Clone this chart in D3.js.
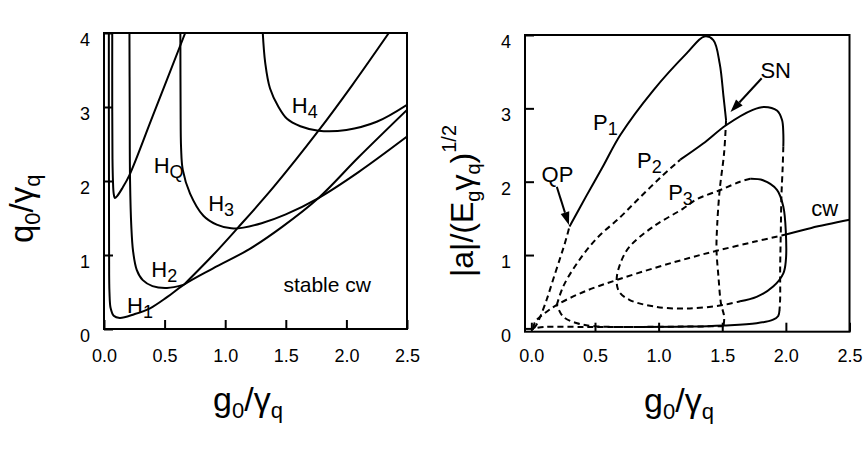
<!DOCTYPE html>
<html>
<head>
<meta charset="utf-8">
<script src="https://cdn.jsdelivr.net/npm/d3@7"></script>
<style>
  body { margin: 0; background: #fff; }
  svg text { font-family: "Liberation Sans", Arial, Helvetica, sans-serif; fill: #000; }
</style>
</head>
<body>
<svg id="fig" width="866" height="474"></svg>
<script>
// ---- left panel: Hopf boundaries in the (g0/γq, q0/γq) plane ----
const X_TICKS = [0, 0.5, 1.0, 1.5, 2.0, 2.5];
const Y_TICKS = [0, 1, 2, 3, 4];

const H1 = [[0.04,4.0],[0.04,3.0],[0.041,2.0],[0.042,1.0],[0.045,0.5],[0.055,0.28],[0.08,0.18],[0.13,0.15],[0.25,0.2],[0.38,0.28],[0.52,0.43],[0.66,0.6],
            [0.9,0.82],[1.2,1.08],[1.47,1.38],[1.77,1.77],[2.1,2.32],[2.5,2.96]];
const H2 = [[0.21,4.0],[0.212,3.0],[0.215,2.0],[0.225,1.4],[0.24,1.05],[0.27,0.8],[0.32,0.66],[0.4,0.58],[0.52,0.555],[0.66,0.6]];
const HD = [[0.66,0.6],[0.9,1.0],[1.1,1.36],[1.4,1.92],[1.77,2.68],[2.05,3.3],[2.35,4.0]];
const H3 = [[0.63,4.0],[0.632,3.0],[0.636,2.45],[0.65,2.15],[0.71,1.83],[0.82,1.53],[0.93,1.41],[1.05,1.36],[1.15,1.37],[1.3,1.43],[1.5,1.55],[1.77,1.77],[2.1,2.12],[2.5,2.6]];
const H4 = [[1.31,4.0],[1.33,3.6],[1.37,3.25],[1.44,3.0],[1.51,2.84],[1.62,2.74],[1.77,2.68],[2.0,2.69],[2.25,2.8],[2.5,3.03]];
const HQ = [[0.068,4.0],[0.068,3.0],[0.07,2.3],[0.074,2.0],[0.08,1.83],[0.09,1.77],[0.11,1.8],[0.15,1.9],[0.21,2.08],[0.4,2.87],[0.67,4.0]];

// ---- right panel: amplitude branches vs g0/γq ----
const CW_UNSTABLE = [[0.015,0.0],[0.03,0.09],[0.1,0.2],[0.2,0.32],[0.4,0.49],[0.67,0.66],[1.0,0.84],[1.24,0.96],[1.46,1.06],[1.75,1.18],[2.0,1.28]];
const CW_STABLE   = [[2.0,1.28],[2.2,1.37],[2.5,1.48]];

const P1_RISE  = [[0.02,0.0],[0.04,0.05],[0.07,0.16],[0.12,0.39],[0.17,0.66],[0.23,0.98],[0.265,1.17],[0.30,1.39]];
const P1_TOP   = [[0.30,1.39],[0.43,1.8],[0.56,2.2],[0.70,2.64],[0.96,3.25],[1.22,3.75],[1.36,3.98],[1.43,3.93],[1.48,3.61],[1.51,3.16],[1.53,2.84]];
const P1_FALL  = [[1.53,2.84],[1.515,2.4],[1.48,1.89],[1.46,1.4],[1.455,1.07],[1.47,0.71],[1.49,0.34],[1.515,0.16],[1.51,0.03]];
const P1_FLOOR = [[1.51,0.03],[1.2,0.025],[0.8,0.02],[0.4,0.02],[0.1,0.02],[0.02,0.0]];

const P2_RISE  = [[0.2,0.32],[0.25,0.57],[0.36,0.89],[0.51,1.22],[0.7,1.52],[0.85,1.78],[1.01,2.05],[1.17,2.3]];
const P2_TOP   = [[1.17,2.3],[1.35,2.52],[1.53,2.77],[1.74,2.98],[1.83,3.02],[1.93,2.97],[1.97,2.84],[1.98,2.65],[1.98,2.48]];
const P2_FALL  = [[1.98,2.48],[1.975,2.2],[1.965,1.8],[1.96,1.3],[1.955,0.8],[1.955,0.4],[1.95,0.25]];
const P2_BASE  = [[1.95,0.25],[1.94,0.17],[1.9,0.12],[1.77,0.07],[1.51,0.04],[1.24,0.025],[0.85,0.02]];
const P2_FLOOR = [[0.85,0.02],[0.5,0.03],[0.36,0.07],[0.25,0.16],[0.2,0.32]];

const P3_LOOP  = [[1.72,2.04],[1.64,2.0],[1.49,1.89],[1.3,1.76],[1.19,1.63],[0.96,1.39],[0.77,1.11],[0.7,0.89],[0.67,0.66],[0.69,0.5],[0.77,0.39],[0.96,0.3],[1.22,0.27],[1.51,0.32],[1.64,0.37]];
const P3_EDGE  = [[1.64,0.37],[1.77,0.43],[1.9,0.57],[1.98,0.75],[2.0,0.93],[2.0,1.3],[1.98,1.66],[1.93,1.89],[1.82,2.02],[1.72,2.04]];

const QP_ARROW = [[0.2,1.93],[0.295,1.41]];
const SN_ARROW = [[1.81,3.41],[1.565,2.95]];

const svg = d3.select("#fig");
const DASH = "6,4";

function richText(sel, parts, size, small, sub, sup){
  // parts: [text, kind] with kind "" | "sub" | "sup"; dy is relative so track the shift
  let shift = 0;
  parts.forEach(([t,k])=>{
    const want = k==="sub" ? sub : k==="sup" ? -sup : 0;
    sel.append("tspan").attr("dy", want-shift).attr("font-size", k ? small : size).text(t);
    shift = want;
  });
}

function panel(id, x, y, curves){
  const g = svg.append("g");
  const [x0,x1] = x.range(), [y0,y1] = y.range();
  g.append("clipPath").attr("id", id).append("rect")
    .attr("x", x0).attr("y", y1).attr("width", x1-x0).attr("height", y0-y1);
  const line = d3.line().x(d=>x(d[0])).y(d=>y(d[1])).curve(d3.curveCatmullRom.alpha(0.5));
  g.append("g").attr("clip-path", `url(#${id})`).selectAll("path").data(curves).join("path")
    .attr("d", d=>line(d.pts)).attr("fill","none").attr("stroke","#000")
    .attr("stroke-width", 2).attr("stroke-dasharray", d=>d.dashed ? DASH : null)
    .attr("stroke-linejoin","round");

  const ax = g.append("g").attr("transform", `translate(0,${y0})`)
    .call(d3.axisBottom(x).tickValues(X_TICKS).tickFormat(d3.format(".1f"))
      .tickSizeInner(-9).tickSizeOuter(0).tickPadding(362 - y0 - 12.8));
  const ay = g.append("g").attr("transform", `translate(${x0},0)`)
    .call(d3.axisLeft(y).tickValues(Y_TICKS).tickFormat(d3.format("d"))
      .tickSizeInner(-9).tickSizeOuter(0).tickPadding(14));
  [ax, ay].forEach(a=>{
    a.select(".domain").remove();
    a.selectAll("line").attr("stroke","#000").attr("stroke-width",2);
    a.selectAll("text").attr("font-size",18).attr("font-family",null).attr("fill","#000");
  });
  ay.selectAll("text").attr("dy","0.7em");

  g.append("rect").attr("x", x0).attr("y", y1).attr("width", x1-x0).attr("height", y0-y1)
    .attr("fill","none").attr("stroke","#000").attr("stroke-width",2);
  return g;
}

// ---------- left ----------
const xL = d3.scaleLinear().domain([0,2.5]).range([104,407]);
const yL = d3.scaleLinear().domain([0,4]).range([329,33]);
const gL = panel("clipL", xL, yL, [
  {pts:H1},{pts:H2},{pts:HD},{pts:H3},{pts:H4},{pts:HQ}
]);

const labelsL = [
  {at:[1.55,2.92], parts:[["H",""],["4","sub"]]},
  {at:[0.41,2.11], parts:[["H",""],["Q","sub"]]},
  {at:[0.86,1.60], parts:[["H",""],["3","sub"]]},
  {at:[0.39,0.70], parts:[["H",""],["2","sub"]]},
  {at:[0.19,0.22], parts:[["H",""],["1","sub"]]}
];
labelsL.forEach(l=>{
  const t = gL.append("text").attr("x", xL(l.at[0])).attr("y", yL(l.at[1]));
  richText(t, l.parts, 22, 18, 5, 0);
});
gL.append("text").attr("x", xL(1.48)).attr("y", yL(0.495)).attr("font-size",21).text("stable cw");

// ---------- right ----------
const xR = d3.scaleLinear().domain([-0.05,2.5]).range([525,849.5]);
const yR = d3.scaleLinear().domain([-0.045,4]).range([331.7,35]);
const gR = panel("clipR", xR, yR, [
  {pts:CW_UNSTABLE, dashed:true},{pts:CW_STABLE},
  {pts:P1_RISE, dashed:true},{pts:P1_TOP},{pts:P1_FALL, dashed:true},{pts:P1_FLOOR, dashed:true},
  {pts:P2_RISE, dashed:true},{pts:P2_TOP},{pts:P2_FALL, dashed:true},{pts:P2_BASE},{pts:P2_FLOOR, dashed:true},
  {pts:P3_LOOP, dashed:true},{pts:P3_EDGE}
]);

const labelsR = [
  {at:[1.8,3.41], parts:[["SN",""]]},
  {at:[0.08,2.0], parts:[["QP",""]]},
  {at:[0.485,2.71], parts:[["P",""],["1","sub"]]},
  {at:[0.83,2.18], parts:[["P",""],["2","sub"]]},
  {at:[1.075,1.75], parts:[["P",""],["3","sub"]]},
  {at:[2.2,1.53], parts:[["cw",""]]}
];
labelsR.forEach(l=>{
  const t = gR.append("text").attr("x", xR(l.at[0])).attr("y", yR(l.at[1]));
  richText(t, l.parts, 22, 18, 5, 0);
});

function arrow(g, x, y, seg){
  const [a,b] = seg;
  const x1 = x(a[0]), y1 = y(a[1]), x2 = x(b[0]), y2 = y(b[1]);
  const ang = Math.atan2(y2-y1, x2-x1), L = 13, W = 4.5;
  const bx = x2 - L*Math.cos(ang), by = y2 - L*Math.sin(ang);
  g.append("line").attr("x1",x1).attr("y1",y1).attr("x2",bx).attr("y2",by)
    .attr("stroke","#000").attr("stroke-width",2);
  g.append("path").attr("fill","#000")
    .attr("d", d3.line()([[x2,y2],[bx - W*Math.sin(ang), by + W*Math.cos(ang)],[bx + W*Math.sin(ang), by - W*Math.cos(ang)]]) + "Z");
}
arrow(gR, xR, yR, QP_ARROW);
arrow(gR, xR, yR, SN_ARROW);

// ---------- axis titles ----------
const tx1 = svg.append("text").attr("x",213).attr("y",411);
richText(tx1, [["g",""],["0","sub"],["/",""],["γ",""],["q","sub"]], 34, 22, 7, 0);
const tx2 = svg.append("text").attr("x",644).attr("y",412);
richText(tx2, [["g",""],["0","sub"],["/",""],["γ",""],["q","sub"]], 34, 22, 7, 0);

const ty1 = svg.append("text").attr("transform","translate(33,243) rotate(-90)");
richText(ty1, [["q",""],["0","sub"],["/",""],["γ",""],["q","sub"]], 33, 22, 7, 0);
const ty2 = svg.append("text").attr("transform","translate(473,277) rotate(-90)");
richText(ty2, [["|a|/(E",""],["g","sub"],["γ",""],["q","sub"],[")",""],["1/2","sup"]], 32, 20, 7, 17);
</script>
</body>
</html>
